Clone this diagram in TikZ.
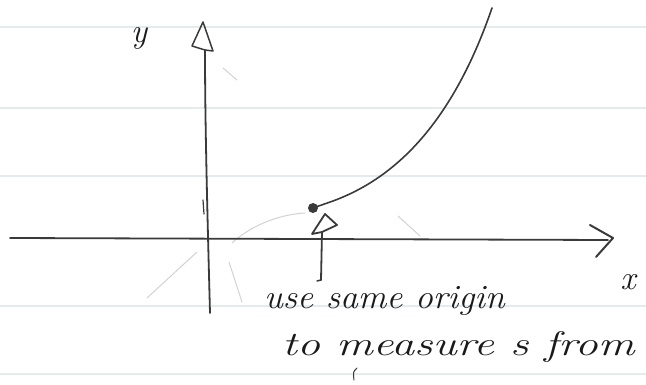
\documentclass[tikz,border=0pt]{standalone}
\usetikzlibrary{calc}
\definecolor{ink}{HTML}{3A3A3A}
\definecolor{pen}{HTML}{1A1A1A}
\definecolor{pencil}{HTML}{D2D2D2}
\definecolor{rule}{HTML}{E4EBEC}
\tikzset{
  inkline/.style={draw=ink,line width=1.8pt,line cap=round,line join=round},
  faint/.style={draw=pencil,line width=1pt,line cap=round},
  ruled/.style={draw=rule,line width=1.2pt},
  hand/.style={text=pen,inner sep=0pt,font=\itshape\fontsize{34}{38}\selectfont},
}
\begin{document}
\begin{tikzpicture}[x=1pt,y=-1pt]
\useasboundingbox (0,0) rectangle (646,385);
% ruled paper lines
\foreach \yy in {27,108,176,306,374} \draw[ruled] (0,\yy) -- (646,\yy);
% faint pencil marks
\draw[faint] (223,68) -- (237,80);
\draw[faint] (147,298) -- (197,252);
\draw[faint] (229,262) -- (242,302);
\draw[faint] (232,243) .. controls (255,222) and (285,214) .. (305,213);
\draw[faint] (398,216) -- (420,236);
% coordinates
\coordinate (ybot) at (210,313);
\coordinate (ytop) at (205,50);
\coordinate (ytip) at (203,22);
\coordinate (yl) at (192,46);
\coordinate (yr) at (213,51);
\coordinate (xl) at (10,238);
\coordinate (xr) at (608,240);
\coordinate (xa1) at (590,225);
\coordinate (xtip) at (613,238);
\coordinate (xa2) at (596,257);
\coordinate (start) at (313,208);
\coordinate (c1) at (333,201);
\coordinate (ctop) at (492,8);
\coordinate (abot) at (321,280);
\coordinate (atop) at (322,232);
\coordinate (atip) at (325,214);
\coordinate (al) at (312,234);
\coordinate (ar) at (337,225);
% y axis
\draw[inkline] (ybot) .. controls (207,200) and (205,120) .. (ytop);
\draw[inkline,line width=1.5pt] (ytop) -- (yl) -- (ytip) -- (yr) -- cycle;
\draw[inkline,line width=1.2pt] (203,200) -- (204,214);
% x axis
\draw[inkline] (xl) -- (xr);
\draw[inkline,line width=2pt] (xa1) -- (xtip) -- (xa2);
% curve
\draw[inkline,line width=1.6pt] (start) -- (c1)
  .. controls (390,180) and (450,130) .. (ctop);
\fill[ink] (start) circle (5pt);
% arrow
\draw[inkline] (abot) -- (atop);
\draw[inkline,line width=1.8pt] (atop) -- (al) -- (atip) -- (ar) -- cycle;
\draw[inkline,line width=1.5pt] (abot) -- (317,281);
% labels
\node[hand,font=\itshape\fontsize{34}{36}\selectfont] (ylabel) at (139,38) {y};
\node[hand,font=\itshape\fontsize{34}{36}\selectfont] (xlabel) at (628,282) {x};
\node[hand,anchor=base west] (note1) at (264,308) {\scalebox{1.05}[1]{use same origin}};
\node[hand,anchor=base west] (note2) at (282,355) {\scalebox{1.35}[1]{to measure \textit{s} from}};
\draw[inkline,line width=1pt] (357,368) .. controls (353,372) .. (354,380);
\end{tikzpicture}
\end{document}
